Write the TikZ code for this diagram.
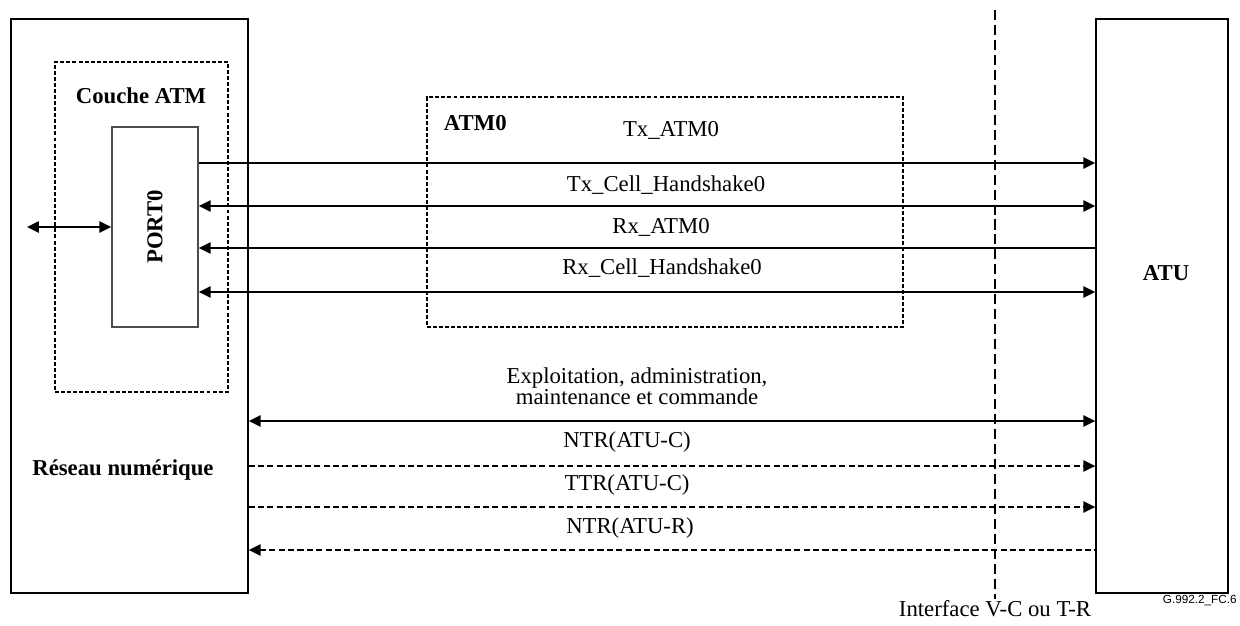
\documentclass[tikz,border=0pt,12pt]{standalone}
\usepackage{fontspec}
\setmainfont{Liberation Serif}
\setsansfont{Liberation Sans}
\usetikzlibrary{arrows.meta, positioning, fit}
\newcommand{\hd}{\bfseries}

\begin{document}
\begin{tikzpicture}[
  x=0.528pt, y=-0.528pt,
  >={Triangle[length=6.3pt, width=5.8pt]},
  block/.style={draw, line width=0.65pt, inner sep=0pt},
  zone/.style={draw, line width=0.9pt, dash pattern=on 2.1pt off 1.1pt, inner sep=0pt},
  sig/.style={line width=1.25pt},
  ctl/.style={line width=1.2pt, dash pattern=on 3.2pt off 1.75pt},
  lbl/.style={inner sep=1pt},
]
\useasboundingbox (0,0) rectangle (1240,625);

% ---------- blocks ----------
\node[block, fit={(11,19) (248,593)}] (net) {};
\node[block, fit={(1096,19) (1228,593)}] (atu) {};
\node[zone, fit={(55,62) (228,392)}] (layer) {};
\node[block, draw=black!70, fit={(112,127) (198,327)}] (port) {};
\node[zone, fit={(427,97) (903,327)}] (atm) {};

\node[font=\hd] (layerlbl) at (141,96) {Couche ATM};
\node[font=\hd, rotate=90] (portlbl) at (port.center) {PORT0};
\node[font=\hd, anchor=west] (atmlbl) at (436,123) {ATM0};
\node[font=\hd] (netlbl) at (123,470) {Réseau numérique};
\node[font=\hd] (atulbl) at (1166,273) {ATU};

% ---------- ATM0 signals ----------
\node[lbl] (txatm) at (671,130) {Tx\_ATM0};
\node[lbl] (txcell) at (666,185) {Tx\_Cell\_Handshake0};
\node[lbl] (rxatm) at (661,227) {Rx\_ATM0};
\node[lbl] (rxcell) at (662,268) {Rx\_Cell\_Handshake0};

\coordinate (r1) at (0,163);
\coordinate (r2) at (0,206);
\coordinate (r3) at (0,248);
\coordinate (r4) at (0,292);
\draw[sig, ->] (port.east |- r1) -- (atu.west |- r1);
\draw[sig, <->] (port.east |- r2) -- (atu.west |- r2);
\draw[sig, <-] (port.east |- r3) -- (atu.west |- r3);
\draw[sig, <->] (port.east |- r4) -- (atu.west |- r4);

\coordinate (ext) at (27,227);
\draw[sig, <->] (ext) -- (port.west |- ext);

% ---------- management and timing ----------
\node[lbl, align=center, font=\fontsize{12}{11.1}\selectfont] (oam) at (637,386)
  {Exploitation, administration,\\maintenance et commande};
\node[lbl] (ntrc) at (627,442) {NTR(ATU-C)};
\node[lbl] (ttrc) at (627,485) {TTR(ATU-C)};
\node[lbl] (ntrr) at (630,528) {NTR(ATU-R)};

\coordinate (m1) at (0,421);
\coordinate (m2) at (0,466);
\coordinate (m3) at (0,507);
\coordinate (m4) at (0,550);
\draw[sig, <->] (net.east |- m1) -- (atu.west |- m1);
\draw[ctl, ->] (net.east |- m2) -- (atu.west |- m2);
\draw[ctl, ->] (net.east |- m3) -- (atu.west |- m3);
\draw[ctl, <-] (net.east |- m4) -- (atu.west |- m4);

% ---------- interface ----------
\node[lbl] (ifc) at (995,609) {Interface V-C ou T-R};
\coordinate (vtop) at (995,10);
\draw[line width=1.1pt, dash pattern=on 5.3pt off 2.6pt] (vtop) -- (vtop |- ifc.north);

\node[font=\sffamily\fontsize{6.2}{7}\selectfont, anchor=east, inner sep=0pt] (ref) at (1237,601) {G.992.2\_FC.6};

\end{tikzpicture}
\end{document}
